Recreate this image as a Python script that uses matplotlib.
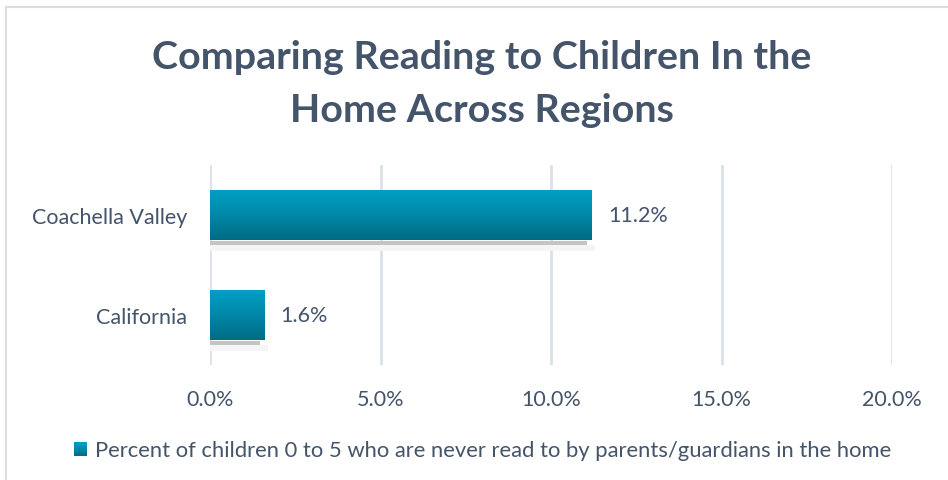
import matplotlib.pyplot as plt
import numpy as np
from matplotlib.colors import LinearSegmentedColormap
from matplotlib.patches import Rectangle
from matplotlib.lines import Line2D

plt.rcParams['font.family'] = ['Lato', 'DejaVu Sans']

regions = ["Coachella Valley", "California"]
values = [11.2, 1.6]
xticks = [0, 5, 10, 15, 20]
xtick_labels = ["0.0%", "5.0%", "10.0%", "15.0%", "20.0%"]
series_name = "Percent of children 0 to 5 who are never read to by parents/guardians in the home"
title = "Comparing Reading to Children In the\nHome Across Regions"

text_col = "#44546A"
grad = LinearSegmentedColormap.from_list("teal", ["#00A0C4", "#0088A8", "#006C84"])

fig = plt.figure(figsize=(9.48, 4.81), dpi=100)
W, H = 948, 481
ax = fig.add_axes([210 / W, (H - 366) / H, 682 / W, 200 / H])

ax.set_xlim(0, 20)
ax.set_ylim(1.5, -0.5)
bar_h = 0.51
px = 20 / 682  # data units per pixel in x

gradient = np.linspace(0, 1, 256).reshape(-1, 1)
for i, (name, v) in enumerate(zip(regions, values)):
    # shadow
    ax.add_patch(Rectangle((0, i + bar_h / 2), v - 5 * px, 0.045,
                           facecolor="#C4C4C4", edgecolor="none", zorder=2))
    ax.add_patch(Rectangle((0, i + bar_h / 2 + 0.045), v + 3 * px, 0.06,
                           facecolor="#F5F5F5", edgecolor="none", zorder=1.5))
    # bar with vertical gradient (light on top, dark at bottom)
    bar = ax.barh(i, v, height=bar_h, color="none", zorder=3)[0]
    im = ax.imshow(gradient, cmap=grad, aspect="auto", origin="upper",
                   extent=[0, v, i + bar_h / 2, i - bar_h / 2], zorder=3)
    im.set_clip_path(bar)
    ax.text(v + 16 * px, i, f"{v:.1f}%", va="center", ha="left",
            fontsize=15.5, color=text_col)

ax.set_xlim(0, 20)
ax.set_ylim(1.5, -0.5)
ax.set_yticks(range(len(regions)))
ax.set_yticklabels(regions)
ax.set_xticks(xticks)
ax.set_xticklabels(xtick_labels)
ax.tick_params(axis="both", length=0, labelsize=15.5, labelcolor=text_col)
ax.tick_params(axis="y", pad=16.5)
ax.tick_params(axis="x", pad=17)
ax.grid(axis="x", color="#DCE1E8", linewidth=2)
ax.set_axisbelow(True)
for s in ax.spines.values():
    s.set_visible(False)

fig.text(482 / W, 1 - 84 / H, title, ha="center", va="center", fontsize=28.4,
         fontweight="bold", color=text_col, linespacing=1.62)

# legend
lax = fig.add_axes([74 / W, (H - 457) / H, 13 / W, 14 / H])
lax.imshow(gradient[::-1], cmap=grad, aspect="auto", origin="lower")
lax.axis("off")
fig.text(95 / W, 1 - 451 / H, series_name, ha="left", va="center",
         fontsize=15.85, color=text_col)

# chart border (partially cropped)
fig.add_artist(Line2D([6 / W, 1], [1 - 8 / H, 1 - 8 / H], color="#D9DEE3", lw=1.5))
fig.add_artist(Line2D([6 / W, 6 / W], [0, 1 - 8 / H], color="#D9DEE3", lw=1.5))

fig.savefig("out.png", dpi=100, facecolor="white")
